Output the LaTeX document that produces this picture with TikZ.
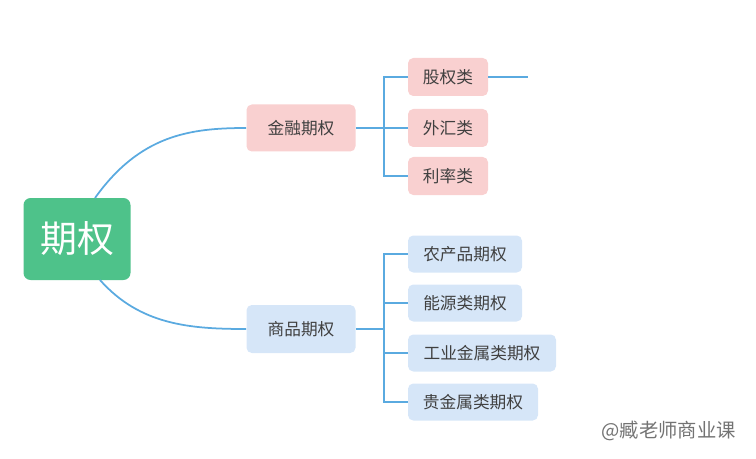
\documentclass[tikz,border=0pt]{standalone}
\usepackage{fontspec}
\setmainfont{Noto Sans CJK SC}
\definecolor{bfill}{HTML}{D6E6F8}
\definecolor{pfill}{HTML}{F9D0D0}
\definecolor{gfill}{HTML}{4EC28A}
\definecolor{lcol}{HTML}{5AAAE0}
\begin{document}
\begin{tikzpicture}[x=0.02cm,y=-0.02cm,
  box/.style={rounded corners=3pt,draw=none,text=black!75,font=\fontsize{9.5}{11}\selectfont,inner sep=0pt},
  pink/.style={box,fill=pfill},
  blue/.style={box,fill=bfill},
  ln/.style={draw=lcol,line width=1pt},
  tl/.style={draw=lcol,line width=0.6pt}]
\useasboundingbox (0,0) rectangle (756,459);
\node[rounded corners=4pt,fill=gfill,text=white,minimum width=107*0.02cm,minimum height=82*0.02cm,font=\fontsize{21}{24}\selectfont] (root) at (77,239) {期权};
\node[pink,minimum width=109*0.02cm,minimum height=47*0.02cm] (fin) at (301,128) {金融期权};
\node[blue,minimum width=109*0.02cm,minimum height=48*0.02cm] (com) at (301,329) {商品期权};
\node[pink,minimum width=80*0.02cm,minimum height=38*0.02cm] (a1) at (448,77) {股权类};
\node[pink,minimum width=80*0.02cm,minimum height=38*0.02cm] (a2) at (448,128) {外汇类};
\node[pink,minimum width=80*0.02cm,minimum height=38*0.02cm] (a3) at (448,176) {利率类};
\node[blue,minimum width=114*0.02cm,minimum height=37*0.02cm] (b1) at (465,254) {农产品期权};
\node[blue,minimum width=114*0.02cm,minimum height=37*0.02cm] (b2) at (465,303) {能源类期权};
\node[blue,minimum width=148*0.02cm,minimum height=37*0.02cm] (b3) at (482,353) {工业金属类期权};
\node[blue,minimum width=130*0.02cm,minimum height=37*0.02cm] (b4) at (473,402) {贵金属类期权};
\coordinate (fj) at (384,128);
\coordinate (cj) at (384,329);
\coordinate (tail) at (528,77);
\draw[ln] (95,198) .. controls (140,135) and (190,128) .. (fin.west);
\draw[ln] (100,280) .. controls (140,325) and (190,329) .. (com.west);
\draw[tl] (fin.east) -- (fj);
\draw[tl] (com.east) -- (cj);
\draw[tl] (a1.west) -| (fj) |- (a3.west);
\draw[tl] (fj) -- (a2.west);
\draw[tl] (b1.west) -| (cj) |- (b4.west);
\draw[tl] (b2.west) -| (cj);
\draw[tl] (b3.west) -| (cj);
\draw[tl] (a1.east) -- (tail);
\node[text=black!55,font=\fontsize{11}{13}\selectfont,anchor=east] (wm) at (742,431) {@臧老师商业课};
\end{tikzpicture}
\end{document}
